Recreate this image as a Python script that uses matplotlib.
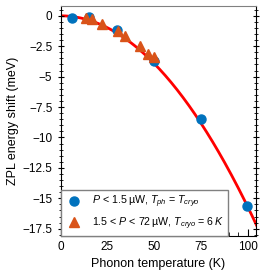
import matplotlib
matplotlib.use("Agg")
import matplotlib.pyplot as plt
import numpy as np
from matplotlib.ticker import MultipleLocator

plt.rcParams['font.family'] = ['Liberation Sans', 'DejaVu Sans']
plt.rcParams['mathtext.fontset'] = 'custom'
plt.rcParams['mathtext.it'] = 'Liberation Sans:italic'
plt.rcParams['mathtext.rm'] = 'Liberation Sans'

# low power, phonon temperature = cryostat temperature
t_low = [6, 15, 30, 50, 75, 99.5]
shift_low = [-0.15, -0.1, -1.2, -3.7, -8.5, -15.6]

# higher power at T_cryo = 6 K
t_high = [13.5, 16.5, 22.3, 30.6, 34.6, 42.4, 46.8, 50.0]
shift_high = [-0.15, -0.25, -0.7, -1.25, -1.65, -2.5, -3.1, -3.4]

# quadratic fit of the shift
fit_coef = -0.00157
t_fit = np.linspace(0, 105, 200)

fig, ax = plt.subplots(figsize=(2.76, 2.76), dpi=100)
ax.plot(t_fit, fit_coef * t_fit**2, color='red', lw=2, zorder=1)
ax.plot(t_low, shift_low, 'o', color='#0072BD', ms=6.5, zorder=2,
        label='$P$ < 1.5\u2009µW, $T_{ph}$ = $T_{cryo}$')
ax.plot(t_high, shift_high, '^', color='#D95319', ms=6.5, zorder=3,
        label='1.5 < $P$ < 72\u2009µW, $T_{cryo}$ = 6\u2009$K$')

ax.set_xlim(0, 104.5)
ax.set_ylim(-18.1, 0.8)
ax.xaxis.set_major_locator(MultipleLocator(25))
ax.xaxis.set_minor_locator(MultipleLocator(5))
ax.yaxis.set_minor_locator(MultipleLocator(0.5))
ax.set_yticks([0, -2.5, -5, -7.5, -10, -12.5, -15, -17.5])
ax.set_yticklabels(['0', '−2.5', '−5', '−7.5', '−10', '−12.5', '−15', '−17.5'])

ax.tick_params(which='both', direction='inout', right=True, top=False, labelsize=8.5)
ax.tick_params(axis='x', which='both', direction='in')
ax.tick_params(which='major', length=5)
ax.tick_params(which='minor', length=3)
ax.spines['top'].set_color('gray')

ax.set_xlabel('Phonon temperature (K)', fontsize=9, labelpad=4)
ax.set_ylabel('ZPL energy shift (meV)', fontsize=9)
ax.yaxis.set_label_coords(-0.215, 0.5)

leg = ax.legend(loc='lower left', fontsize=7.7, borderaxespad=0, fancybox=False,
                edgecolor='gray', framealpha=1, handletextpad=0.9, handlelength=1.6,
                borderpad=0.4, labelspacing=0.45)
leg.get_frame().set_linewidth(1)

plt.subplots_adjust(left=0.22, right=0.928, top=0.978, bottom=0.145)
plt.savefig('out.png', dpi=100)
